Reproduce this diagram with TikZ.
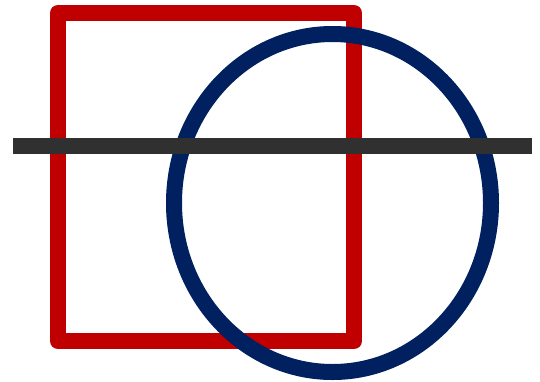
\documentclass[tikz,border=0pt]{standalone}
\definecolor{rred}{HTML}{C00000}
\definecolor{bblue}{HTML}{002060}
\definecolor{ddark}{HTML}{303030}
\begin{document}
\begin{tikzpicture}[x=1pt,y=-1pt,
  thick16/.style={line width=16pt}]
\useasboundingbox (0,0) rectangle (540,381);
\coordinate (r1) at (58,13);
\coordinate (r2) at (354,341);
\coordinate (ec) at (332.5,203);
\coordinate (la) at (13,146);
\coordinate (lb) at (532,146);
\draw[thick16, rred, line join=round] (r1) rectangle (r2);
\draw[thick16, bblue] (ec) ellipse [x radius=158.5, y radius=169];
\draw[thick16, ddark] (la) -- (lb);
\end{tikzpicture}
\end{document}
